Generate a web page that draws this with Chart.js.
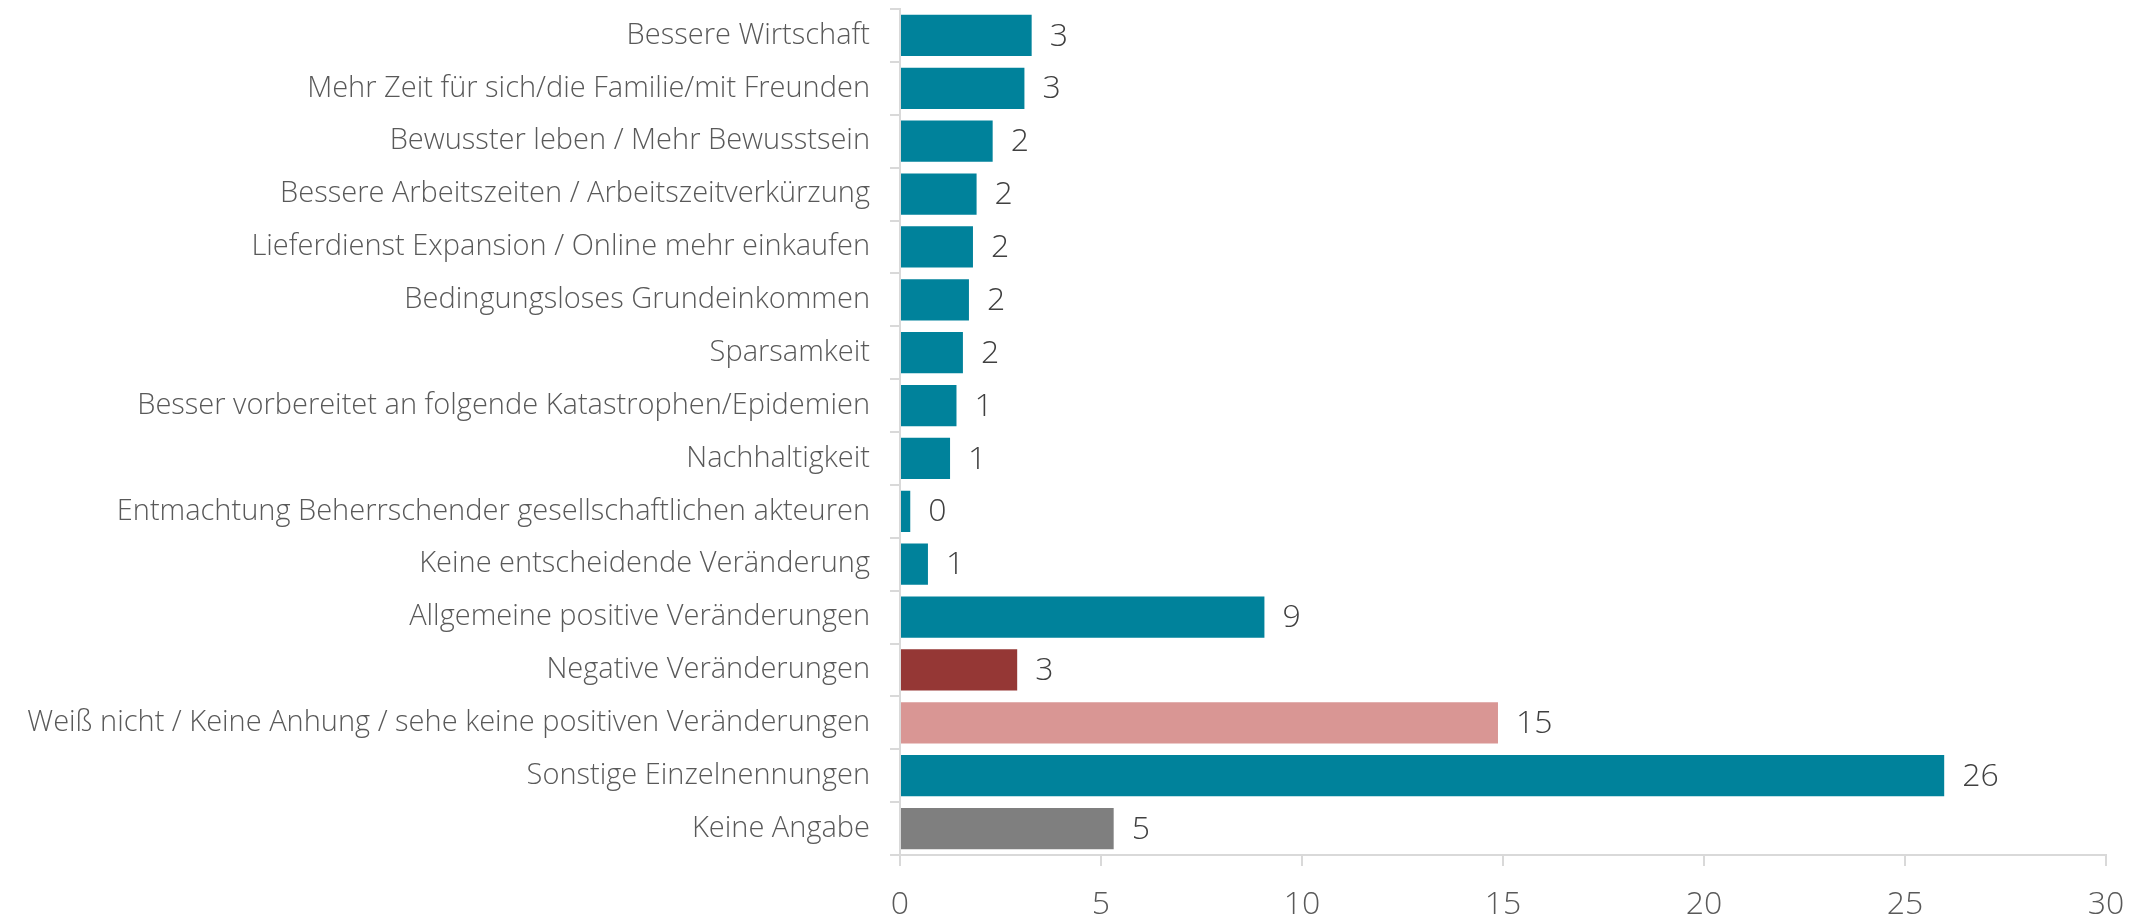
<!DOCTYPE html>
<html>
<head>
<meta charset="utf-8">
<script src="https://cdn.jsdelivr.net/npm/chart.js@4/dist/chart.umd.min.js"></script>
<style>
  html, body { margin: 0; padding: 0; background: #fff; }
  #wrap { width: 2129px; height: 916px; position: relative; }
</style>
</head>
<body>
<div id="wrap"><canvas id="chart"></canvas></div>
<script>
const categories = [
  "Bessere Wirtschaft",
  "Mehr Zeit für sich/die Familie/mit Freunden",
  "Bewusster leben / Mehr Bewusstsein",
  "Bessere Arbeitszeiten / Arbeitszeitverkürzung",
  "Lieferdienst Expansion / Online mehr einkaufen",
  "Bedingungsloses Grundeinkommen",
  "Sparsamkeit",
  "Besser vorbereitet an folgende Katastrophen/Epidemien",
  "Nachhaltigkeit",
  "Entmachtung Beherrschender gesellschaftlichen akteuren",
  "Keine entscheidende Veränderung",
  "Allgemeine positive Veränderungen",
  "Negative Veränderungen",
  "Weiß nicht / Keine Anhung / sehe keine positiven Veränderungen",
  "Sonstige Einzelnennungen",
  "Keine Angabe",
];
const values = [3.3, 3.12, 2.33, 1.93, 1.84, 1.74, 1.59, 1.43, 1.27, 0.28, 0.72, 9.09, 2.94, 14.9, 26.0, 5.34];
const xTicks = [0, 5, 10, 15, 20, 25, 30];

const TEAL = "#00829b", DARKRED = "#953735", PINK = "#d99694", GREY = "#7f7f7f";
const barColors = categories.map((c, i) => {
  if (i === 12) return DARKRED;
  if (i === 13) return PINK;
  if (i === 15) return GREY;
  return TEAL;
});

// value labels at the end of each bar
const valueLabels = {
  id: "valueLabels",
  afterDatasetsDraw(chart) {
    const ctx = chart.ctx;
    const meta = chart.getDatasetMeta(0);
    ctx.save();
    ctx.font = "300 32px 'Open Sans'";
    ctx.fillStyle = "#404040";
    ctx.textAlign = "left";
    ctx.textBaseline = "middle";
    meta.data.forEach((bar, i) => {
      ctx.fillText(String(Math.round(values[i])), bar.x + 17, bar.y + 1);
    });
    ctx.restore();
  },
};

new Chart(document.getElementById("chart"), {
  type: "bar",
  data: {
    labels: categories,
    datasets: [
      {
        data: values,
        backgroundColor: barColors,
        borderColor: "rgba(255,255,255,0.35)",
        borderWidth: 1,
        barPercentage: 0.82,
        categoryPercentage: 1,
      },
    ],
  },
  options: {
    indexAxis: "y",
    responsive: true,
    maintainAspectRatio: false,
    animation: false,
    layout: { padding: { top: 9, right: 23, left: 0, bottom: 0 } },
    plugins: { legend: { display: false }, tooltip: { enabled: false } },
    scales: {
      x: {
        min: 0,
        max: 30,
        afterBuildTicks: (scale) => { scale.ticks = xTicks.map((v) => ({ value: v })); },
        afterFit: (scale) => {
          scale.height = 61;
          scale.paddingLeft = 0;
          scale.paddingRight = 0;
        },
        border: { color: "#d9d9d9", width: 2 },
        grid: { drawOnChartArea: false, color: "#d9d9d9", lineWidth: 2, tickLength: 11 },
        ticks: {
          color: "#595959",
          padding: 20,
          maxRotation: 0,
          font: { family: "'Open Sans'", size: 32, weight: 300 },
        },
      },
      y: {
        afterFit: (scale) => {
          scale.width = 900;
          scale.paddingTop = 0;
          scale.paddingBottom = 0;
        },
        border: { color: "#d9d9d9", width: 2 },
        grid: { drawOnChartArea: false, color: "#d9d9d9", lineWidth: 2, tickLength: 10, offset: true },
        ticks: {
          color: "#595959",
          padding: 20,
          autoSkip: false,
          font: { family: "'Open Sans'", size: 29, weight: 300 },
        },
      },
    },
  },
  plugins: [valueLabels],
});
</script>
</body>
</html>
